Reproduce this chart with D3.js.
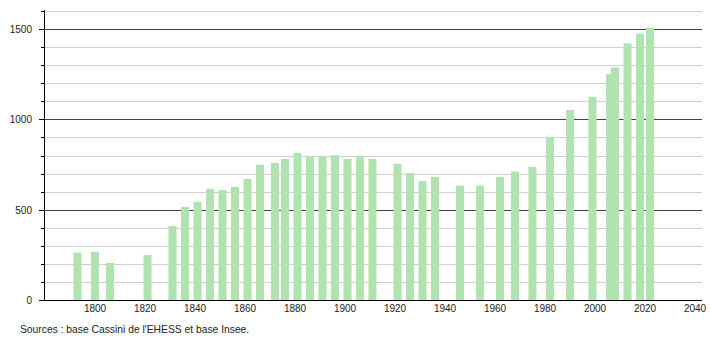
<!DOCTYPE html>
<html>
<head>
<meta charset="utf-8">
<script src="https://cdn.jsdelivr.net/npm/d3@7"></script>
<style>
  html, body { margin: 0; padding: 0; background: #fff; }
  svg { display: block; }
  text { font-family: "Liberation Sans", Arial, sans-serif; fill: #222; }
</style>
</head>
<body>
<svg id="chart" width="710" height="340"></svg>
<script>
const years = [1793,1800,1806,1821,1831,1836,1841,1846,1851,1856,1861,1866,1872,1876,1881,1886,1891,1896,1901,1906,1911,1921,1926,1931,1936,1946,1954,1962,1968,1975,1982,1990,1999,2006,2008,2013,2018,2022];
const population = [262,267,205,249,410,515,544,615,609,626,670,749,759,781,814,794,794,801,781,794,781,755,703,659,681,633,633,681,711,737,903,1052,1124,1251,1288,1421,1475,1508];
const xTickLabels = [1800,1820,1840,1860,1880,1900,1920,1940,1960,1980,2000,2020,2040];
const yTickLabels = [0,500,1000,1500];
const yGridValues = d3.range(100, 1700, 100);
const sourceText = "Sources : base Cassini de l'EHESS et base Insee.";

const svg = d3.select("#chart");
const x = d3.scaleLinear().domain([1780, 2043]).range([45, 702.5]);
const y = d3.scaleLinear().domain([0, 1600]).range([300, 11]);

// gridlines
svg.append("g").selectAll("line").data(yGridValues).join("line")
  .attr("x1", 45).attr("x2", 702)
  .attr("y1", d => Math.round(y(d)) + 0.5).attr("y2", d => Math.round(y(d)) + 0.5)
  .attr("stroke", d => d % 500 === 0 ? "#444" : "#cfcfcf")
  .attr("stroke-width", 1);

// bars
const barW = 8;
svg.append("g").selectAll("rect").data(years).join("rect")
  .attr("x", (d) => x(d) - barW / 2)
  .attr("width", barW)
  .attr("y", (d, i) => y(population[i]))
  .attr("height", (d, i) => y(0) - y(population[i]))
  .attr("fill", "#b0e3b0");

// y axis line
svg.append("line").attr("x1", 44.5).attr("x2", 44.5).attr("y1", 10).attr("y2", 300.5)
  .attr("stroke", "#000").attr("stroke-width", 1);
// y ticks
svg.append("g").selectAll("line").data(d3.range(0, 1700, 100)).join("line")
  .attr("x1", d => d % 500 === 0 ? 39 : 41).attr("x2", 44.5)
  .attr("y1", d => Math.round(y(d)) + 0.5).attr("y2", d => Math.round(y(d)) + 0.5)
  .attr("stroke", "#000").attr("stroke-width", 1);
// x axis line
svg.append("line").attr("x1", 44).attr("x2", 702).attr("y1", 300.5).attr("y2", 300.5)
  .attr("stroke", "#000").attr("stroke-width", 1.2);

// y labels
svg.append("g").selectAll("text").data(yTickLabels).join("text")
  .attr("x", 32).attr("y", d => y(d) + 4)
  .attr("text-anchor", "end").attr("font-size", "10px")
  .text(d => d);

// x labels
svg.append("g").selectAll("text").data(xTickLabels).join("text")
  .attr("x", d => x(d)).attr("y", 312)
  .attr("text-anchor", "middle").attr("font-size", "10px")
  .text(d => d);

svg.append("text").attr("x", 20).attr("y", 333).attr("font-size", "10.3px").text(sourceText);
</script>
</body>
</html>
